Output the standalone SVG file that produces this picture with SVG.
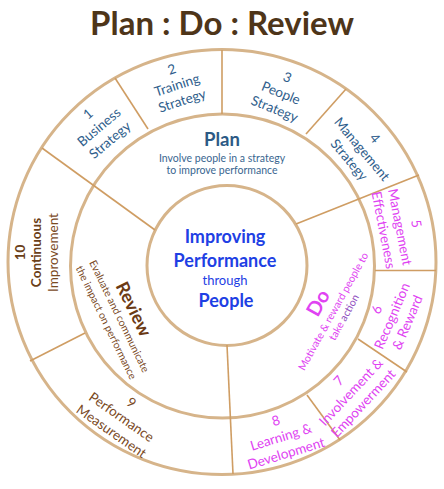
<svg xmlns="http://www.w3.org/2000/svg" width="444" height="489" viewBox="0 0 444 489">
<style>
text{font-family:Lato,"Open Sans","Liberation Sans",sans-serif;text-anchor:middle}
.ring{fill:none;stroke:#D6B48A;stroke-width:3}
.div{fill:none;stroke:#CF9D63;stroke-width:1.6}
.seg{font-size:13.5px}
.blue{fill:#2F5E8C}
.mag{fill:#E043F2}
.brn{fill:#7A4A1F}
.b{font-weight:bold}
.sub{font-size:10.5px}
.ctr{fill:#1E40E4}
</style>
<rect width="444" height="489" fill="#fff"/>
<g id="title"><text x="222" y="35" class="b" style="font-size:33px;fill:#4E3519">Plan : Do : Review</text></g>
<g id="rings">
<ellipse class="ring" cx="222" cy="262" rx="214" ry="212.5"/>
<circle class="ring" cx="222.5" cy="266" r="152"/>
<circle class="ring" cx="227" cy="265.5" r="80"/>
</g>
<g id="connectors">
<line class="div" x1="115" y1="78" x2="148" y2="129"/>
<line class="div" x1="222" y1="50" x2="222" y2="114"/>
<line class="div" x1="346" y1="89" x2="306" y2="134"/>
<line class="div" x1="419" y1="175" x2="296" y2="224"/>
<line class="div" x1="375" y1="270.5" x2="436" y2="270.5"/>
<line class="div" x1="358" y1="339" x2="407" y2="372"/>
<line class="div" x1="307" y1="395" x2="340" y2="440"/>
<line class="div" x1="227" y1="345" x2="233" y2="474"/>
<line class="div" x1="30" y1="361" x2="85" y2="333"/>
<line class="div" x1="42" y1="148" x2="155" y2="230"/>
</g>
<g id="seg1" class="seg blue" transform="translate(99,127) rotate(-40)"><text y="-12.3">1</text><text y="4.7">Business</text><text y="21.7">Strategy</text></g>
<g id="seg2" class="seg blue" transform="translate(177,85) rotate(-18)"><text y="-11.8">2</text><text y="4.7">Training</text><text y="21.2">Strategy</text></g>
<g id="seg3" class="seg blue" transform="translate(281,93) rotate(22)"><text y="-12.3">3</text><text y="4.7">People</text><text y="21.7">Strategy</text></g>
<g id="seg4" class="seg blue" transform="translate(362,149) rotate(50)"><text y="-12">4</text><text y="4.7">Management</text><text y="21.4">Strategy</text></g>
<g id="seg5" class="seg mag" transform="translate(400,227) rotate(79)"><text y="-12">5</text><text y="4.7">Management</text><text y="21.4">Effectiveness</text></g>
<g id="seg6" class="seg mag" transform="translate(392,316) rotate(-67)"><text y="-12">6</text><text y="4.7">Recognition</text><text y="21.4">&amp; Reward</text></g>
<g id="seg7" class="seg mag" transform="translate(351,392) rotate(-47)"><text y="-12">7</text><text y="4.7">Involvement &amp;</text><text y="21.4">Empowerment</text></g>
<g id="seg8" class="seg mag" transform="translate(281,437) rotate(-17)"><text y="-12.5">8</text><text y="4.7">Learning &amp;</text><text y="21.9">Development</text></g>
<g id="seg9" class="seg brn" transform="translate(121.5,417) rotate(35)"><text y="-12.7">9</text><text y="4.7">Performance</text><text y="22.1">Measurement</text></g>
<g id="seg10" class="seg brn" transform="translate(36.7,252.5) rotate(-90)"><text y="-12" class="b" style="fill:#6B4018">10</text><text y="4.7" class="b" style="fill:#6B4018">Continuous</text><text y="21.4">Improvement</text></g>
<g id="plan"><text x="222" y="146" class="b" style="font-size:18.5px;fill:#2C5A85">Plan</text><text x="222" y="161.5" class="sub" style="fill:#3A6690">Involve people in a strategy</text><text x="222" y="174" class="sub" style="fill:#3A6690">to improve performance</text></g>
<g id="center" class="ctr"><text x="225" y="243" class="b" style="font-size:18px">Improving</text><text x="225" y="267" class="b" style="font-size:18px">Performance</text><text x="225" y="285" style="font-size:13px">through</text><text x="226" y="307" class="b" style="font-size:18px">People</text></g>
<g id="review" transform="translate(134,309) rotate(64)"><text y="6.5" class="b" style="font-size:18px;fill:#6B3A14">Review</text><text y="20" class="sub brn">Evaluate and communicate</text><text y="34.6" class="sub brn">the impact on performance</text></g>
<g id="do" transform="translate(318,303) rotate(-61)"><text y="7" class="b mag" style="font-size:20px">Do</text><text y="21" class="sub mag">Motivate &amp; reward people to</text><text y="33.3" class="sub mag">take <tspan style="fill:#9050C0">action</tspan></text></g>
</svg>
